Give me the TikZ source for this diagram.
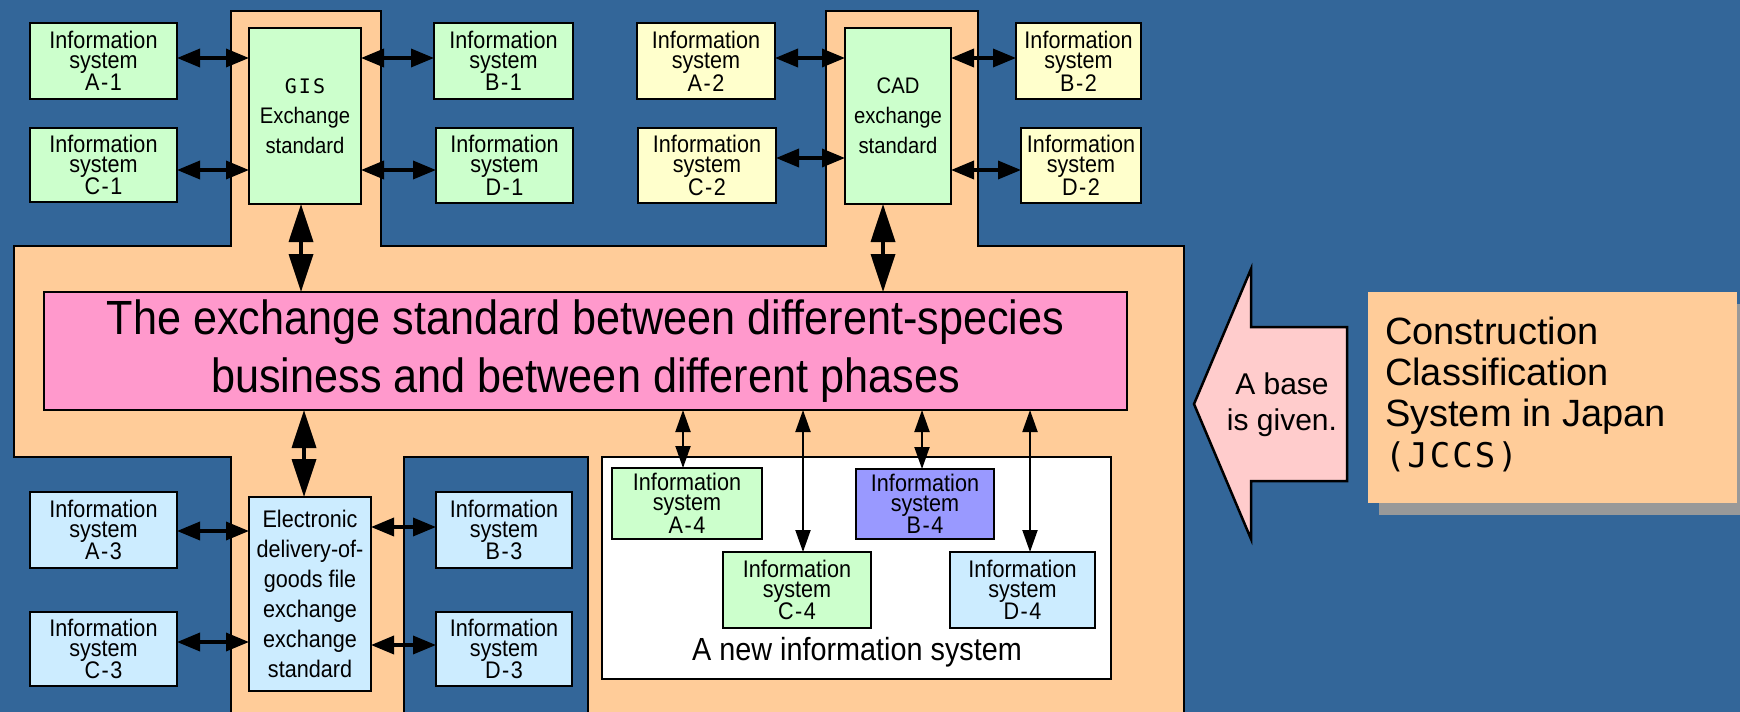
\documentclass[tikz,border=0pt]{standalone}
\usepackage{fontspec}
\setmainfont{Liberation Sans}
\newfontfamily\condf[FakeStretch=0.9]{Liberation Sans}
\newfontfamily\monof{DejaVu Sans Mono}
\usetikzlibrary{arrows.meta,shadows}
\definecolor{bgblue}{HTML}{336699}
\definecolor{peach}{HTML}{FFCC99}
\definecolor{lgreen}{HTML}{CCFFCC}
\definecolor{lyellow}{HTML}{FFFFCC}
\definecolor{lblue}{HTML}{CCECFF}
\definecolor{pinkbox}{HTML}{FF99CC}
\definecolor{purplebox}{HTML}{9999FF}
\definecolor{arrowpink}{HTML}{FFCCCC}
\definecolor{shadowgray}{HTML}{999999}
\newcommand\myhy{\kern1.5pt-\kern1.5pt}
\newcommand\infosys[1]{Information\\system\\#1}
\tikzset{
  ibox/.style={draw=black,line width=2.5pt,align=center,font=\condf\fontsize{24}{20}\selectfont},
  sbox/.style={draw=black,line width=2.5pt,align=center,font=\condf\fontsize{22.5}{30}\selectfont},
  harr/.style={arrows={Triangle[length=23pt,width=18pt]-Triangle[length=23pt,width=18pt]},line width=3.5pt},
  varr/.style={arrows={Triangle[length=38pt,width=24pt]-Triangle[length=38pt,width=24pt]},line width=3.5pt},
  narr/.style={arrows={Triangle[length=22pt,width=15pt]-Triangle[length=22pt,width=15pt]},line width=2pt},
  outline/.style={draw=black,line width=2.5pt}
}
\begin{document}
\begin{tikzpicture}[x=1pt,y=-1pt,every node/.style={inner sep=0pt,outer sep=0pt}]
\useasboundingbox (0,0) rectangle (1740,712);
\fill[bgblue] (0,0) rectangle (1740,712);
% peach base region
\draw[outline,fill=peach] (14,246) -- (231,246) -- (231,11) -- (381,11) -- (381,246) -- (826,246) -- (826,11) -- (978,11) -- (978,246) -- (1184,246) -- (1184,730) -- (588,730) -- (588,457) -- (404,457) -- (404,730) -- (231,730) -- (231,457) -- (14,457) -- cycle;
% new information system area
\node[outline,fill=white,minimum width=509pt,minimum height=222pt] (W) at (856.5,568) {};
\node[font=\condf\fontsize{32}{36}\selectfont] (NT) at (857,652) {A new information system};

% top-left group
\node[ibox,fill=lgreen,minimum width=147pt,minimum height=76pt] (A1) at (103.5,61) {\infosys{A\myhy 1}};
\node[ibox,fill=lgreen,minimum width=147pt,minimum height=74pt] (C1) at (103.5,165) {\infosys{C\myhy 1}};
\node[sbox,fill=lgreen,minimum width=112pt,minimum height=176pt] (GIS) at (305,116) {{\monof\fontsize{20}{30}\selectfont G\kern2pt I\kern2pt S}\\Exchange\\standard};
\node[ibox,fill=lgreen,minimum width=139pt,minimum height=76pt] (B1) at (503.5,61) {\infosys{B\myhy 1}};
\node[ibox,fill=lgreen,minimum width=137pt,minimum height=75pt] (D1) at (504.5,165.5) {\infosys{D\myhy 1}};

% top-right group
\node[ibox,fill=lyellow,minimum width=138pt,minimum height=76pt] (A2) at (706,61) {\infosys{A\myhy 2}};
\node[ibox,fill=lyellow,minimum width=138pt,minimum height=75pt] (C2) at (707,165.5) {\infosys{C\myhy 2}};
\node[sbox,fill=lgreen,minimum width=106pt,minimum height=176pt] (CAD) at (898,116) {CAD\\exchange\\standard};
\node[ibox,fill=lyellow,minimum width=125pt,minimum height=76pt] (B2) at (1078.5,61) {\infosys{B\myhy 2}};
\node[ibox,fill=lyellow,minimum width=120pt,minimum height=75pt] (D2) at (1081,165.5) {\infosys{D\myhy 2}};

% central pink box
\node[outline,fill=pinkbox,minimum width=1083pt,minimum height=118pt,align=center,font=\condf\fontsize{48}{58}\selectfont] (P) at (585.5,351) {The exchange standard between different-species\\business and between different phases};

% bottom-left group
\node[ibox,fill=lblue,minimum width=147pt,minimum height=76pt] (A3) at (103.5,530) {\infosys{A\myhy 3}};
\node[ibox,fill=lblue,minimum width=147pt,minimum height=74pt] (C3) at (103.5,649) {\infosys{C\myhy 3}};
\node[sbox,fill=lblue,minimum width=122pt,minimum height=194pt,font=\condf\fontsize{24}{30}\selectfont] (E) at (310,594) {Electronic\\delivery-of-\\goods file\\exchange\\exchange\\standard};
\node[ibox,fill=lblue,minimum width=136pt,minimum height=76pt] (B3) at (504,530) {\infosys{B\myhy 3}};
\node[ibox,fill=lblue,minimum width=136pt,minimum height=74pt] (D3) at (504,649) {\infosys{D\myhy 3}};

% new systems
\node[ibox,fill=lgreen,minimum width=150pt,minimum height=71pt] (A4) at (687,503.5) {\infosys{A\myhy 4}};
\node[ibox,fill=purplebox,minimum width=138pt,minimum height=70pt] (B4) at (925,504) {\infosys{B\myhy 4}};
\node[ibox,fill=lgreen,minimum width=148pt,minimum height=76pt] (C4) at (797,590) {\infosys{C\myhy 4}};
\node[ibox,fill=lblue,minimum width=145pt,minimum height=76pt] (D4) at (1022.5,590) {\infosys{D\myhy 4}};

% arrow block and JCCS
\draw[outline,fill=arrowpink] (1194,404) -- (1251,269) -- (1251,327) -- (1347,327) -- (1347,481) -- (1251,481) -- (1251,539) -- cycle;
\node[align=center,font=\fontsize{30}{36}\selectfont] (AB) at (1282,405) {A base\\is given.};
\node[fill=peach,minimum width=369pt,minimum height=211pt,drop shadow={shadow xshift=11pt,shadow yshift=-12pt,fill=shadowgray,opacity=1}] (J) at (1552.5,397.5) {};
\node[anchor=north west,align=left,font=\fontsize{38}{41}\selectfont] (JT) at (1385,317) {Construction\\Classification\\System in Japan\\{\monof\fontsize{34}{41}\selectfont(\kern2pt J\kern2pt C\kern2pt C\kern2pt S\kern2pt)}};

% horizontal connectors
\coordinate (a1) at ([yshift=3pt]A1.east);
\coordinate (c1) at ([yshift=-5pt]C1.east);
\coordinate (b1) at ([yshift=3pt]B1.west);
\coordinate (d1) at ([yshift=-4.5pt]D1.west);
\coordinate (a2) at ([yshift=3pt]A2.east);
\coordinate (c2) at ([yshift=7.5pt]C2.east);
\coordinate (b2) at ([yshift=3pt]B2.west);
\coordinate (d2) at ([yshift=-4.5pt]D2.west);
\coordinate (a3) at ([yshift=-1pt]A3.east);
\coordinate (c3) at ([yshift=7pt]C3.east);
\coordinate (b3) at ([yshift=3pt]B3.west);
\coordinate (d3) at ([yshift=4pt]D3.west);
\draw[harr] (a1) -- (a1 -| GIS.west);
\draw[harr] (c1) -- (c1 -| GIS.west);
\draw[harr] (b1 -| GIS.east) -- (b1);
\draw[harr] (d1 -| GIS.east) -- (d1);
\draw[harr] (a2) -- (a2 -| CAD.west);
\draw[harr] (c2) -- (c2 -| CAD.west);
\draw[harr] (b2 -| CAD.east) -- (b2);
\draw[harr] (d2 -| CAD.east) -- (d2);
\draw[harr] (a3) -- (a3 -| E.west);
\draw[harr] (c3) -- (c3 -| E.west);
\draw[harr] (b3 -| E.east) -- (b3);
\draw[harr] (d3 -| E.east) -- (d3);

% vertical connectors
\coordinate (g) at ([xshift=-4pt]GIS.south);
\coordinate (k) at ([xshift=-15pt]CAD.south);
\coordinate (e) at ([xshift=-6pt]E.north);
\draw[varr] (g) -- (g |- P.north);
\draw[varr] (k) -- (k |- P.north);
\draw[varr] (e |- P.south) -- (e);
\coordinate (a4) at ([xshift=-4pt]A4.north);
\coordinate (c4) at ([xshift=6pt]C4.north);
\coordinate (b4) at ([xshift=-3pt]B4.north);
\coordinate (d4) at ([xshift=7.5pt]D4.north);
\draw[narr] (a4 |- P.south) -- (a4);
\draw[narr] (c4 |- P.south) -- (c4);
\draw[narr] (b4 |- P.south) -- (b4);
\draw[narr] (d4 |- P.south) -- (d4);
\end{tikzpicture}
\end{document}
